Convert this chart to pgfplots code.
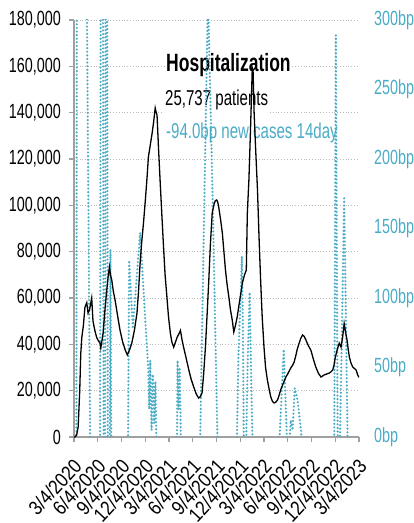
\documentclass[border=0pt]{standalone}
\usepackage{fontspec}
\setmainfont{Liberation Sans}[FakeStretch=0.7]
\newfontfamily\xfont{Liberation Sans}[FakeStretch=0.86]
\usepackage{pgfplots}
\pgfplotsset{compat=1.18}
\definecolor{cblue}{RGB}{75,172,198}
\definecolor{cgrid}{RGB}{185,185,185}
\definecolor{caxis}{RGB}{160,160,160}
\pgfplotsset{
  base/.style={at={(0pt,0pt)}, anchor=south west, scale only axis,
    width=285pt, height=417pt, xmin=0, xmax=1095,
    scaled ticks=false,
    tick label style={font=\fontsize{20.5}{24}\selectfont},
  }
}
\begin{document}
\begin{tikzpicture}
\useasboundingbox (-74pt,-86pt) rectangle (340pt,437pt);
% axis A: grid, left axis, dates
\begin{axis}[base, ymin=0, ymax=180000,
  ytick={0,20000,40000,60000,80000,100000,120000,140000,160000,180000},
  yticklabels={0,{20,000},{40,000},{60,000},{80,000},{100,000},{120,000},{140,000},{160,000},{180,000}},
  yticklabel style={inner sep=0pt, xshift=-8pt},
  ymajorgrids, grid style={cgrid, line width=0.9pt, dash pattern=on 0.9pt off 1.9pt},
  axis x line*=bottom, axis y line*=left,
  axis line style={-, caxis, line width=1.1pt},
  tick style={caxis, line width=1.1pt}, tick align=outside, major tick length=5pt,
  xtick={0,92,184,275,365,457,549,640,730,822,914,1005,1095},
  xticklabels={3/4/2020,6/4/2020,9/4/2020,12/4/2020,3/4/2021,6/4/2021,9/4/2021,12/4/2021,3/4/2022,6/4/2022,9/4/2022,12/4/2022,3/4/2023},
  xticklabel style={font=\fontsize{20}{24}\xfont, rotate=47, anchor=north east, inner sep=0pt, yshift=-9pt, xshift=-12pt},
]
\addplot[draw=none] coordinates {(0,0)};
\end{axis}
% annotation
\node[anchor=base west, fill=white, inner xsep=1pt, inner ysep=4pt, font=\fontsize{25}{30}\selectfont\bfseries] at (91pt,365pt) {Hospitalization};
\node[anchor=base west, fill=white, inner xsep=1pt, inner ysep=5pt, font=\fontsize{21.5}{26}\selectfont] at (90pt,331pt) {25,737 patients};
\node[anchor=base west, fill=white, inner xsep=1pt, inner ysep=4pt, font=\fontsize{21.5}{26}\selectfont, text=cblue] at (91pt,298pt) {-94.0bp new cases 14day};
% axis B: bp
\begin{axis}[base, ymin=0, ymax=300,
  axis y line*=right, axis x line=none,
  axis line style={draw=none},
  ytick={0,50,100,150,200,250,300},
  yticklabels={0bp,50bp,100bp,150bp,200bp,250bp,300bp},
  yticklabel style={text=cblue, anchor=west, inner sep=0pt, xshift=15pt},
  major tick length=0pt, ytick style={draw=none},
]
\addplot[cblue, line width=2.4pt, line cap=round, dash pattern=on 0pt off 3.6pt] coordinates {
(0,-20)(9,-20)(12,500)(47,500)(50,300)(62,0)(64,-150)(99,-150)(104,500)(110,500)(115,-150)(118,-150)(123,500)(126,500)(131,-150)(136,-80)(140,135)(145,-80)(205,-80)(212,127)(226,78)(254,147)(274,84)(285,50)(289,20)(293,55)(298,5)(303,45)(308,10)(313,40)(320,-50)(394,-50)(398,55)(402,20)(406,50)(410,5)(414,-50)(484,-10)(513,300)(515,400)(517,300)(532,177)(551,0)(555,-50)(620,-30)(626,0)(632,60)(640,100)(645,130)(649,80)(653,-20)(660,-20)(668,60)(675,104)(681,40)(688,-20)(785,-20)(800,40)(806,63)(812,30)(816,10)(820,-10)(826,-10)(833,12)(840,5)(848,35)(855,30)(860,25)(866,15)(872,5)(880,-20)(997,-30)(1000,0)(1006,289)(1013,0)(1016,-30)(1020,-20)(1024,20)(1028,60)(1038,173)(1051,0)(1055,-94)(1095,-94)
};
\end{axis}
% axis C: hospitalization line
\begin{axis}[base, ymin=0, ymax=180000, hide axis]
\addplot[black, line width=1.3pt] coordinates {
(0,0)(4,0)(10,800)(16,4300)(22,20000)(26,36000)(30,43000)(36,48000)(42,56000)(49,58000)(54,53500)(60,55000)(68,60000)(73,50000)(80,46000)(87,43000)(94,41500)(100,40500)(103,38400)(108,42000)(112,45000)(119,55000)(126,63500)(131,69000)(136,73400)(140,70000)(145,67800)(151,63000)(158,59000)(168,52000)(177,46000)(187,41000)(197,37500)(205,35400)(213,37500)(222,40500)(232,46000)(242,53500)(248,63000)(254,75000)(260,84000)(267,92400)(274,102000)(280,111000)(286,121000)(293,126000)(300,131000)(306,136000)(312,142000)(316,140000)(319,139000)(325,124000)(332,108000)(338,95000)(344,82000)(350,70000)(357,60400)(363,52000)(370,45000)(376,41000)(383,38800)(390,41000)(396,43000)(403,44500)(409,46000)(415,42000)(421,38800)(431,34000)(441,29000)(450,25000)(460,21600)(470,18500)(479,16800)(486,17500)(492,19000)(498,27000)(505,38800)(511,52000)(518,67800)(524,83000)(531,96700)(538,100500)(543,102000)(548,102300)(552,101500)(556,99300)(563,94000)(570,88000)(576,80000)(582,72000)(588,66000)(595,60400)(601,55000)(608,50500)(614,45300)(620,48000)(627,51800)(634,57000)(641,62000)(647,66500)(655,70000)(662,72000)(666,96700)(672,111000)(678,132000)(685,159300)(688,158000)(692,140000)(698,124000)(705,106600)(711,86000)(717,67800)(723,52000)(730,38800)(736,30000)(743,24600)(750,20500)(756,17300)(762,15500)(768,14700)(775,15000)(782,16000)(788,18000)(794,20300)(800,22000)(807,24000)(814,25900)(820,27000)(827,28500)(833,29800)(840,31000)(846,32400)(852,35000)(858,38000)(865,40500)(871,42500)(878,44000)(884,43500)(891,41900)(900,39500)(910,37500)(920,33500)(929,30200)(939,27500)(949,25900)(955,26300)(961,26800)(971,27200)(981,27600)(988,28200)(994,28900)(999,31000)(1004,34500)(1011,37500)(1019,40500)(1026,38800)(1032,43000)(1038,49000)(1043,45500)(1049,41900)(1054,37500)(1058,34500)(1064,32000)(1071,30200)(1078,29500)(1084,28900)(1090,26800)(1095,25737)
};
\end{axis}
\end{tikzpicture}
\end{document}
